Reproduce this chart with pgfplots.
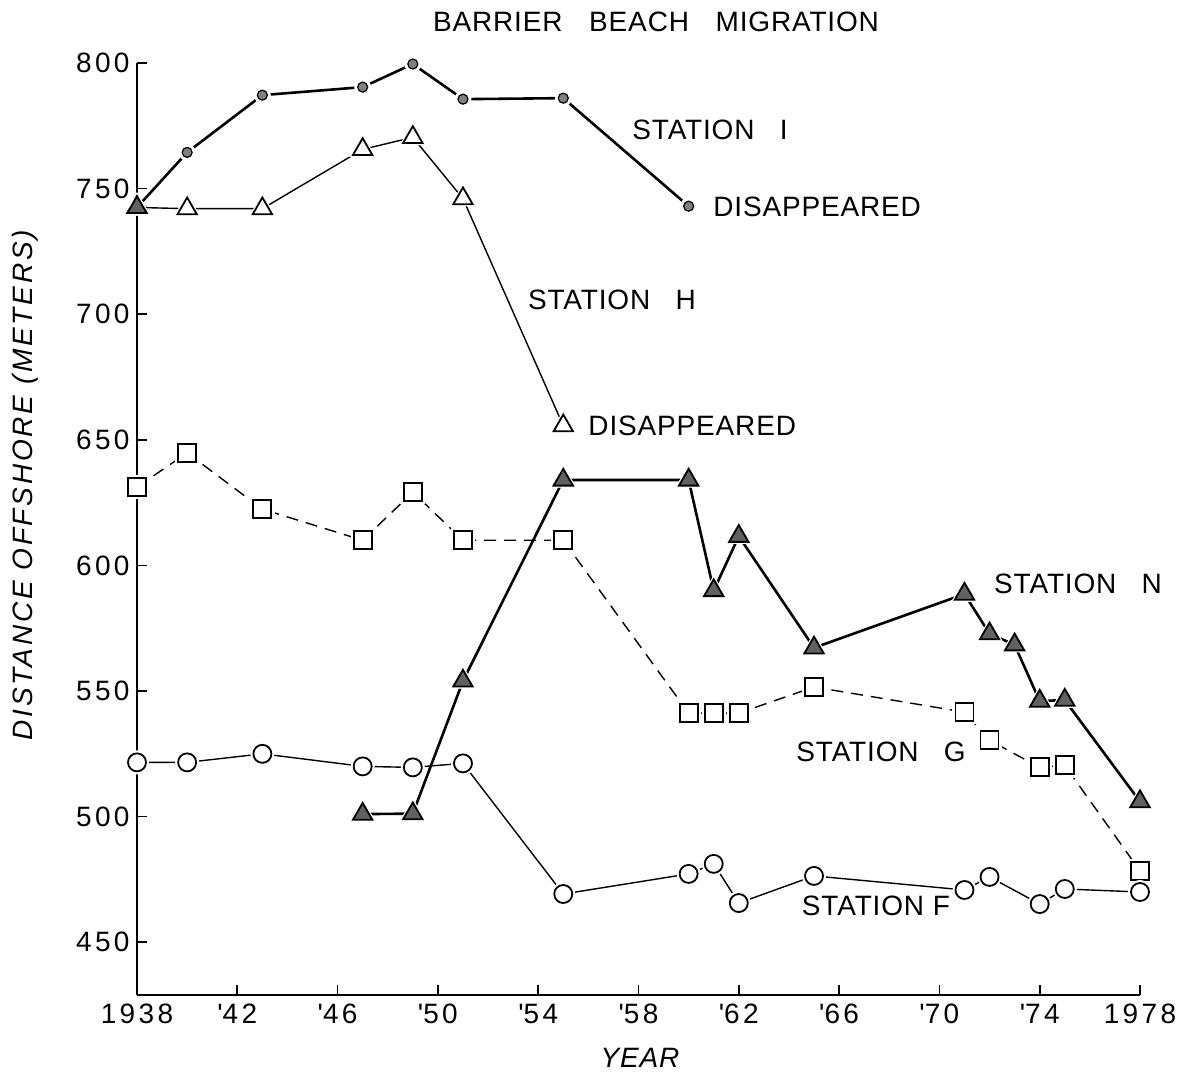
\documentclass[border=0pt]{standalone}
\usepackage{fontspec}
\setmainfont{Liberation Sans}[LetterSpace=3]
\newfontfamily\tickfont{Liberation Sans}[LetterSpace=12]
\newfontfamily\ylabfont{Liberation Sans}[LetterSpace=10]
\usepackage{pgfplots}
\usepackage{pgfplotstable}
\pgfplotsset{compat=1.18}

\pgfplotstableread{
year dist
1938 742.5
1940 764.4
1943 787.2
1947 790.4
1949 799.6
1951 785.6
1955 786.0
1960 743.0
}\stationI

\pgfplotstableread{
year dist
1938 742.5
1940 742.0
1943 742.0
1947 765.6
1949 770.4
1951 746.0
1955 655.6
}\stationH

\pgfplotstableread{
year dist
1938 631.2
1940 644.8
1943 622.4
1947 610.0
1949 629.2
1951 610.0
1955 610.0
1960 541.2
1961 541.2
1962 541.2
1965 551.6
1971 541.6
1972 530.4
1974 519.6
1975 520.4
1978 478.4
}\stationG

\pgfplotstableread{
year dist
1947 501.0
1949 501.2
1951 554.0
1955 634.0
1960 634.0
1961 590.0
1962 611.6
1965 567.2
1971 588.6
1972 572.8
1973 568.4
1974 546.0
1975 546.4
1978 506.0
}\stationN

\pgfplotstableread{
year dist
1938 521.6
1940 521.6
1943 525.0
1947 520.0
1949 519.6
1951 521.2
1955 469.2
1960 477.2
1961 481.2
1962 465.6
1965 476.4
1971 470.8
1972 476.0
1974 465.2
1975 471.2
1978 470.0
}\stationF

\pgfplotstableread{
year dist
1938 742.5
}\stationHfirst

\newcommand{\lab}{\fontsize{14}{16}\selectfont}
\newcommand{\tlab}{\tickfont\fontsize{14}{16}\selectfont}

\begin{document}
\begin{tikzpicture}
\begin{axis}[
  scale only axis, width=501.5pt, height=466pt,
  xmin=1938, xmax=1978, ymin=429, ymax=800,
  axis x line*=bottom, axis y line*=left,
  axis line style={line width=1pt, -},
  tick align=inside, major tick length=5pt,
  tick style={line width=0.8pt, black},
  xtick={1938,1942,...,1978},
  xticklabels={1938,{\textquotesingle 42},{\textquotesingle 46},{\textquotesingle 50},{\textquotesingle 54},{\textquotesingle 58},{\textquotesingle 62},{\textquotesingle 66},{\textquotesingle 70},{\textquotesingle 74},1978},
  ytick={450,500,...,800},
  yticklabels={450,500,550,600,650,700,750,800},
  tick label style={font=\tlab},
  xticklabel style={yshift=-1pt},
  yticklabel style={inner sep=0pt, xshift=-3.5pt},
  clip=false,
]
% Station H
\addplot[line width=0.7pt, black] table[x=year,y=dist]{\stationH};
\addplot[only marks, mark=triangle*, mark size=7.3pt, mark options={white, fill=white}] table[x=year,y=dist]{\stationH};
\addplot[only marks, mark=triangle*, mark size=5.6pt, mark options={draw=black, fill=white, line width=0.9pt}] table[x=year,y=dist]{\stationH};
% Station I
\addplot[line width=1.3pt, black] table[x=year,y=dist]{\stationI};
\addplot[only marks, mark=*, mark size=4pt, mark options={white, fill=white}] table[x=year,y=dist]{\stationI};
\addplot[only marks, mark=*, mark size=2.5pt, mark options={draw=black, fill=black!50, line width=0.6pt}] table[x=year,y=dist]{\stationI};
% Station G
\addplot[line width=0.7pt, black, dash pattern=on 6pt off 4pt] table[x=year,y=dist]{\stationG};
\addplot[only marks, mark=square*, mark size=5.8pt, mark options={white, fill=white}] table[x=year,y=dist]{\stationG};
\addplot[only marks, mark=square*, mark size=4.5pt, mark options={draw=black, fill=white, line width=0.9pt, solid}] table[x=year,y=dist]{\stationG};
% Station F
\addplot[line width=0.7pt, black] table[x=year,y=dist]{\stationF};
\addplot[only marks, mark=*, mark size=5.8pt, mark options={white, fill=white}] table[x=year,y=dist]{\stationF};
\addplot[only marks, mark=*, mark size=4.5pt, mark options={draw=black, fill=white, line width=0.9pt}] table[x=year,y=dist]{\stationF};
% Station N
\addplot[line width=1.3pt, black] table[x=year,y=dist]{\stationN};
\addplot[only marks, mark=triangle*, mark size=7.3pt, mark options={white, fill=white}] table[x=year,y=dist]{\stationN};
\addplot[only marks, mark=triangle*, mark size=5.6pt, mark options={draw=black, fill=black!62, line width=0.9pt}] table[x=year,y=dist]{\stationN};
% first point of H, drawn filled
\addplot[only marks, mark=triangle*, mark size=5.6pt, mark options={draw=black, fill=black!62, line width=0.9pt}] table[x=year,y=dist]{\stationHfirst};

\node[font=\lab] at (axis cs:1958.7,816.3) {BARRIER\hspace{0.95em}BEACH\hspace{0.95em}MIGRATION};
\node[font=\lab] at (axis cs:1960.85,773.3) {STATION\hspace{0.9em}I};
\node[font=\lab, anchor=west, inner sep=0pt] at (axis cs:1960.97,742.7) {DISAPPEARED};
\node[font=\lab] at (axis cs:1956.94,705.7) {STATION\hspace{0.9em}H};
\node[font=\lab, anchor=west, inner sep=0pt] at (axis cs:1955.99,655.5) {DISAPPEARED};
\node[font=\lab] at (axis cs:1975.53,592.6) {STATION\hspace{0.9em}N};
\node[font=\lab] at (axis cs:1967.67,525.7) {STATION\hspace{0.9em}G};
\node[font=\lab] at (axis cs:1967.47,464.5) {STATION F};
\node[font=\lab\itshape] at (axis cs:1958.06,403.9) {YEAR};
\node[font=\ylabfont\fontsize{14}{16}\selectfont\itshape, rotate=90] at (axis cs:1933.53,632) {DISTANCE OFFSHORE (METERS)};
\coordinate (tl) at (rel axis cs:0,1);
\end{axis}
\pgfresetboundingbox
\path ([xshift=-68.5pt,yshift=31.5pt]tl) rectangle ++(592pt,-537pt);
\end{tikzpicture}
\end{document}
